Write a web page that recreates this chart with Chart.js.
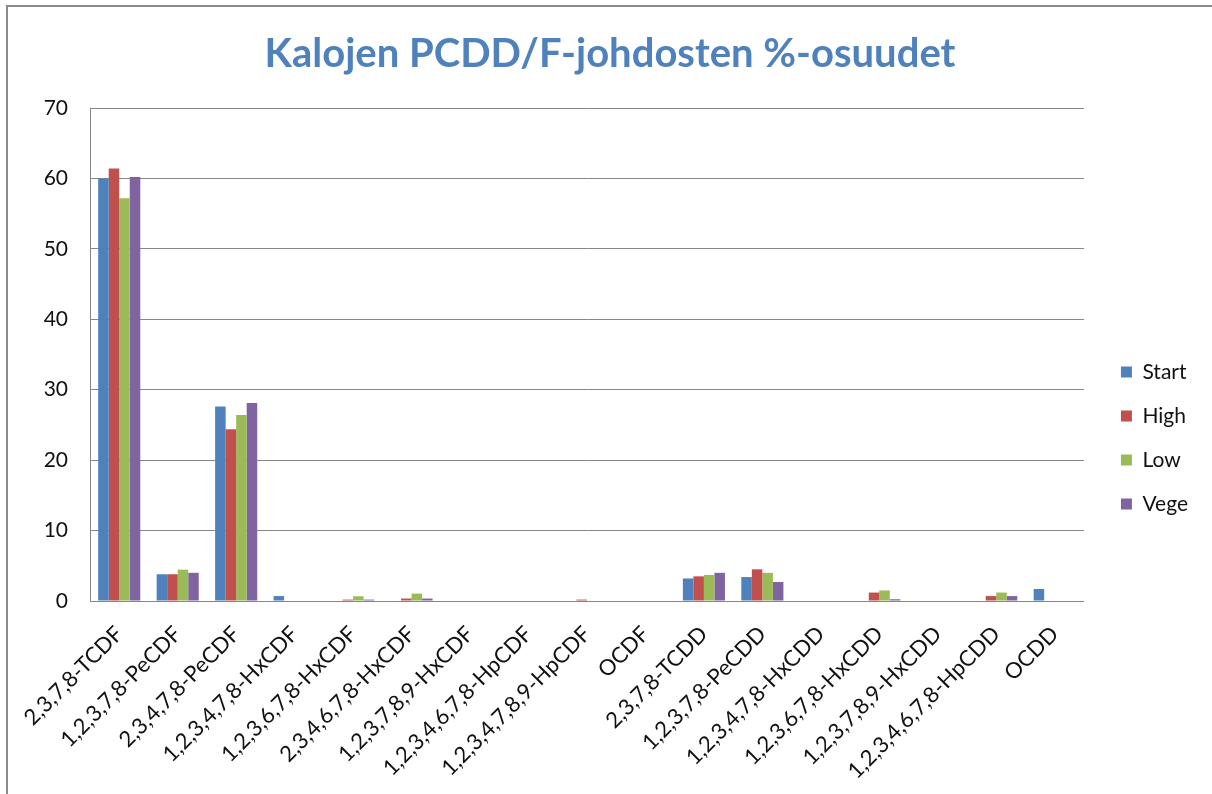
<!DOCTYPE html>
<html>
<head>
<meta charset="utf-8">
<script src="https://cdn.jsdelivr.net/npm/chart.js@4.4.1/dist/chart.umd.min.js"></script>
<style>
  html, body { margin: 0; padding: 0; background: #fff; overflow: hidden; }
  #contenedor { position: relative; width: 1212px; height: 794px; }
  #marco { position: absolute; left: 6px; top: 5px; width: 1400px; height: 1000px;
           border-left: 2px solid #8a8a8a; border-top: 2px solid #8a8a8a; pointer-events: none; }
</style>
</head>
<body>
<div id="contenedor">
  <canvas id="grafico" width="1212" height="794"></canvas>
  <div id="marco"></div>
</div>
<script>
// ==================== DATOS ====================

const categorias = [
  '2,3,7,8-TCDF', '1,2,3,7,8-PeCDF', '2,3,4,7,8-PeCDF', '1,2,3,4,7,8-HxCDF',
  '1,2,3,6,7,8-HxCDF', '2,3,4,6,7,8-HxCDF', '1,2,3,7,8,9-HxCDF', '1,2,3,4,6,7,8-HpCDF',
  '1,2,3,4,7,8,9-HpCDF', 'OCDF', '2,3,7,8-TCDD', '1,2,3,7,8-PeCDD',
  '1,2,3,4,7,8-HxCDD', '1,2,3,6,7,8-HxCDD', '1,2,3,7,8,9-HxCDD', '1,2,3,4,6,7,8-HpCDD', 'OCDD'
];

const serieStart = [60.0, 3.8, 27.6, 0.7, 0, 0, 0, 0, 0, 0, 3.2, 3.4, 0, 0, 0, 0, 1.7];
const serieHigh  = [61.4, 3.8, 24.4, 0, 0.2, 0.35, 0, 0, 0.2, 0, 3.5, 4.5, 0, 1.2, 0, 0.7, 0];
const serieLow   = [57.2, 4.45, 26.4, 0, 0.67, 1.05, 0, 0, 0, 0, 3.7, 4.0, 0, 1.5, 0, 1.2, 0];
const serieVege  = [60.2, 4.0, 28.1, 0, 0.2, 0.35, 0, 0, 0, 0, 4.0, 2.7, 0, 0.25, 0, 0.7, 0];

const nombresSeries = ['Start', 'High', 'Low', 'Vege'];
const coloresSeries = ['#4F81BD', '#C0504D', '#9BBB59', '#8064A2'];

const ejeYMin = 0;
const ejeYMax = 70;
const ejeYPaso = 10;

// ==================== GRÁFICO ====================

const fuente = 'Lato, "Open Sans", sans-serif';
const colorRejilla = '#868686';

// Ajustes de posición al estilo Excel: leyenda más a la derecha, título centrado en el lienzo
const ajustarPosiciones = {
  id: 'ajustarPosiciones',
  afterLayout(chart) {
    const ancho = chart.legend.width;
    chart.legend.left = chart.chartArea.right + 14;
    chart.legend.right = chart.legend.left + ancho;
    chart.titleBlock.left = 0;
    chart.titleBlock.right = chart.width + 8;
  }
};

const valores = [serieStart, serieHigh, serieLow, serieVege];

new Chart(document.getElementById('grafico').getContext('2d'), {
  type: 'bar',
  data: {
    labels: categorias,
    datasets: nombresSeries.map((nombre, i) => ({
      label: nombre,
      data: valores[i],
      backgroundColor: coloresSeries[i],
      borderWidth: 0,
      categoryPercentage: 0.72,
      barPercentage: 1.0
    }))
  },
  options: {
    responsive: false,
    animation: false,
    layout: { padding: { left: 0, right: 28, top: 0, bottom: 0 } },
    plugins: {
      title: {
        display: true,
        text: 'Kalojen PCDD/F-johdosten %-osuudet',
        color: '#4F81BD',
        font: { family: fuente, size: 40, weight: 'bold', lineHeight: 1.2 },
        padding: { top: 30, bottom: 30 }
      },
      legend: {
        display: true,
        position: 'right',
        title: { display: true, text: '', font: { size: 2, lineHeight: 1 }, padding: { top: 80, bottom: 0 } },
        labels: {
          boxWidth: 11,
          boxHeight: 11,
          padding: 23,
          color: '#111',
          font: { family: fuente, size: 21 }
        }
      },
      tooltip: { enabled: false }
    },
    scales: {
      x: {
        grid: { display: false, drawTicks: false },
        border: { display: true, color: colorRejilla, width: 1 },
        ticks: {
          autoSkip: false,
          maxRotation: 45,
          minRotation: 45,
          padding: 20,
          color: '#111',
          font: { family: fuente, size: 22 }
        },
        afterFit(escala) { escala.height = 193; }
      },
      y: {
        min: ejeYMin,
        max: ejeYMax,
        grid: { color: colorRejilla, lineWidth: 1, drawTicks: false },
        border: { display: true, color: colorRejilla, width: 1 },
        ticks: {
          stepSize: ejeYPaso,
          padding: 22,
          color: '#111',
          font: { family: fuente, size: 21 }
        },
        afterFit(escala) { escala.width = 90; }
      }
    }
  },
  plugins: [ajustarPosiciones]
});
</script>
</body>
</html>
